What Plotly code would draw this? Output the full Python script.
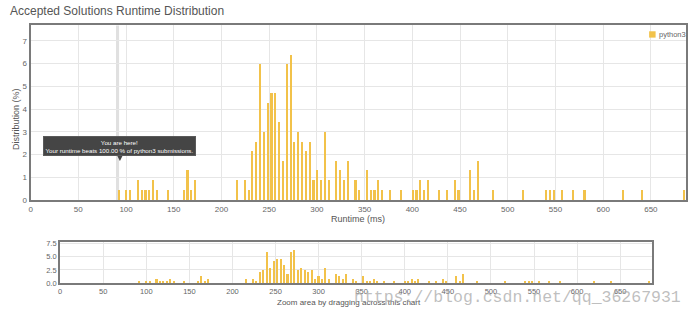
import plotly.graph_objects as go

# Runtime buckets (ms) and share of accepted solutions in each bucket (%)
runtimes = [
    92, 100, 104, 112, 116, 120, 124, 128, 132, 144, 160, 164, 168, 172,
    216, 224, 228, 232, 236, 240, 244, 248, 252, 256, 260, 264, 268, 272,
    276, 280, 284, 288, 292, 296, 300, 304, 308, 312, 320, 324, 328, 332,
    340, 344, 352, 356, 360, 364, 368, 376, 388, 400, 404, 408, 412, 416,
    428, 436, 444, 448, 460, 464, 468, 484,
    516, 540, 544, 548, 556, 568, 580, 620, 640, 684,
]
distribution = [
    0.43, 0.43, 0.43, 0.85, 0.43, 0.43, 0.43, 0.85, 0.43, 0.43, 0.43, 1.28, 0.43, 0.85,
    0.85, 0.85, 0.43, 2.13, 2.55, 5.96, 2.98, 4.26, 4.68, 4.68, 3.40, 1.70, 5.96, 6.38,
    2.55, 2.98, 2.55, 2.13, 2.55, 0.85, 1.28, 0.85, 2.98, 0.85, 1.70, 1.28, 0.85, 1.70,
    0.85, 0.43, 1.28, 0.43, 0.43, 0.85, 0.43, 0.43, 0.43, 0.43, 0.43, 0.85, 0.43, 0.85,
    0.43, 0.43, 0.85, 0.43, 1.28, 0.43, 1.70, 0.43,
    0.43, 0.43, 0.43, 0.43, 0.43, 0.43, 0.43, 0.43, 0.43, 0.43,
]
series_name = "python3"
user_runtime = 92
beats_percent = 100.00

main_y_ticks = [0, 1, 2, 3, 4, 5, 6, 7]
nav_y_ticks = [0.0, 2.5, 5.0, 7.5]
x_ticks = list(range(0, 651, 50))

W, H = 692, 322
BAR_COLOR = "#f2c24a"
GRID = "#e6e6e6"
FRAME = "#7a7a7a"
TICK_FONT = dict(family="Liberation Sans, Arial, sans-serif", size=8, color="#666")
FONT = "Liberation Sans, Arial, sans-serif"


def fx(px):
    return px / W


def fy(py):
    return 1 - py / H


fig = go.Figure()

fig.add_trace(go.Bar(
    x=runtimes, y=distribution, width=2.2, name=series_name,
    marker=dict(color=BAR_COLOR, line=dict(width=0)),
    xaxis="x", yaxis="y", showlegend=False,
))
fig.add_trace(go.Bar(
    x=runtimes, y=distribution, width=2.4, name=series_name,
    marker=dict(color=BAR_COLOR, line=dict(width=0)),
    xaxis="x2", yaxis="y2", showlegend=False,
))

axis_common = dict(
    showgrid=True, gridcolor=GRID, gridwidth=1, zeroline=False,
    showline=True, linecolor=FRAME, linewidth=2, mirror=True,
    ticks="", tickfont=TICK_FONT, fixedrange=True,
)

fig.update_layout(
    width=W, height=H,
    margin=dict(l=0, r=0, t=0, b=0),
    paper_bgcolor="white", plot_bgcolor="white",
    bargap=0,
    xaxis=dict(axis_common, domain=[fx(28.7), fx(685.7)], range=[0, 686.5],
               tickvals=x_ticks, anchor="y"),
    yaxis=dict(axis_common, domain=[fy(202), fy(23)], range=[0, 7.68],
               tickvals=main_y_ticks, anchor="x"),
    xaxis2=dict(axis_common, domain=[fx(58.3), fx(651.7)], range=[0, 686.7],
                tickvals=x_ticks, anchor="y2",
                tickfont=dict(TICK_FONT, size=7.5)),
    yaxis2=dict(axis_common, domain=[fy(287.3), fy(245)], range=[0, 7.81],
                tickvals=nav_y_ticks, tickformat=".1f", anchor="x2",
                tickfont=dict(TICK_FONT, size=7.5)),
)

# Highlight band marking the user's runtime
fig.add_shape(type="rect", xref="x", yref="y domain",
              x0=user_runtime - 2.5, x1=user_runtime + 0.7, y0=0, y1=1,
              fillcolor="#e0e0e0", line=dict(width=0), layer="below")

# Tooltip box and its pointer
fig.add_annotation(
    x=user_runtime, y=0, xref="x", yref="y",
    xanchor="center", yanchor="bottom", xshift=1, yshift=44,
    text=f"You are here!<br>Your runtime beats {beats_percent:.2f} % of {series_name} submissions.",
    showarrow=False, align="center",
    font=dict(family=FONT, size=6.2, color="white"),
    bgcolor="#454545", bordercolor="#5a5a5a", borderwidth=1, borderpad=1.5,
)
fig.add_shape(type="path", xref="x", yref="y",
              xsizemode="pixel", ysizemode="pixel",
              xanchor=user_runtime, yanchor=0,
              path="M -1.5 45 L 4.5 45 L 1.5 39 Z",
              fillcolor="#454545", line=dict(width=0))

# Legend entry
fig.add_shape(type="rect", xref="paper", yref="paper",
              x0=fx(649), x1=fx(655.5), y0=fy(35.5), y1=fy(29),
              fillcolor=BAR_COLOR, line=dict(width=0))
fig.add_annotation(x=fx(656.5), y=fy(32.3), xref="paper", yref="paper",
                   xanchor="left", yanchor="middle", showarrow=False,
                   text=series_name, font=dict(family=FONT, size=7.5, color="#666"))

# Titles
fig.add_annotation(x=fx(6), y=fy(8), xref="paper", yref="paper",
                   xanchor="left", yanchor="middle", showarrow=False,
                   text="Accepted Solutions Runtime Distribution",
                   font=dict(family=FONT, size=12, color="#555"))
fig.add_annotation(x=fx(14), y=fy(119), xref="paper", yref="paper",
                   xanchor="center", yanchor="middle", showarrow=False,
                   textangle=-90, text="Distribution (%)",
                   font=dict(family=FONT, size=9, color="#555"))
fig.add_annotation(x=fx(356.7), y=fy(221.5), xref="paper", yref="paper",
                   xanchor="center", yanchor="middle", showarrow=False,
                   text="Runtime (ms)",
                   font=dict(family=FONT, size=9, color="#555"))
fig.add_annotation(x=fx(348), y=fy(307), xref="paper", yref="paper",
                   xanchor="center", yanchor="middle", showarrow=False,
                   text="Zoom area by dragging across this chart",
                   font=dict(family=FONT, size=8, color="#555"))

# Site watermark
fig.add_annotation(x=fx(351), y=fy(302), xref="paper", yref="paper",
                   xanchor="left", yanchor="middle", showarrow=False,
                   text="https://blog.csdn.net/qq_36267931",
                   font=dict(family="Liberation Mono, monospace", size=16.5,
                             color="rgba(170,170,170,0.75)"))

fig.write_html("out.html")
